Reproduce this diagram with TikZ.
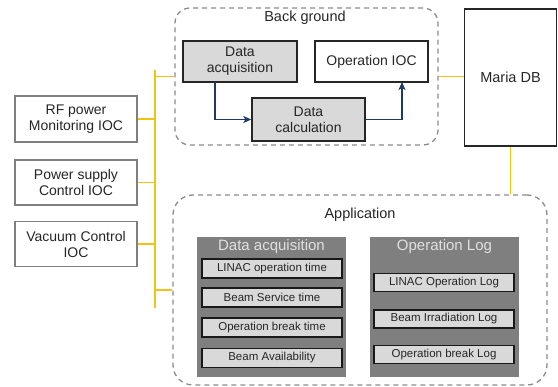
\documentclass[tikz,border=0pt]{standalone}
\usepackage{fontspec}
\setmainfont{Liberation Sans}
\usetikzlibrary{arrows.meta}
\definecolor{yel}{HTML}{F2C314}
\definecolor{dashgray}{HTML}{8C8C8C}
\definecolor{navy}{HTML}{1F3864}
\definecolor{boxgray}{HTML}{D9D9D9}
\definecolor{panelgray}{HTML}{7F7F7F}
\definecolor{txt}{HTML}{262626}
\tikzset{
  yline/.style={draw=yel, line width=1.6pt},
  dashbox/.style={draw=dashgray, line width=1.3pt, dash pattern=on 5pt off 4pt, rectangle},
  graybox/.style={draw=txt, fill=boxgray, line width=1.4pt, align=center, text=txt, font=\fontsize{14}{16}\selectfont, inner sep=0pt},
  whitebox/.style={draw=panelgray, fill=white, line width=1.2pt, align=center, text=txt, font=\fontsize{14}{16}\selectfont, inner sep=0pt},
  panel/.style={fill=panelgray, draw=none, inner sep=0pt},
  itembox/.style={draw=black!90, fill=boxgray, line width=1.5pt, text=txt, font=\fontsize{11.5}{12}\selectfont, inner sep=0pt, minimum width=140pt},
  flow/.style={draw=navy, line width=1.4pt, -{Stealth[length=8pt,width=7pt,inset=2pt]}},
  lbl/.style={text=txt, font=\fontsize{14.5}{16}\selectfont, inner sep=0pt},
  ptitle/.style={text=black!12, font=\fontsize{15}{16}\selectfont, inner sep=0pt}
}
\begin{document}
\begin{tikzpicture}[x=1pt,y=-1pt]
\useasboundingbox (0,0) rectangle (558,387);
% Background group
\node[dashbox, rounded corners=15pt, minimum width=263pt, minimum height=137pt] (bg) at (306.5,76.5) {};
\node[lbl] (bgl) at (305,18) {Back ground};
\node[graybox, minimum width=114pt, minimum height=41pt] (dacq) at (240,61.5) {Data\\acquisition};
\node[whitebox, draw=txt, minimum width=113pt, minimum height=41pt] (opioc) at (371.5,61.5) {Operation IOC};
\node[graybox, minimum width=113pt, minimum height=43pt] (dcalc) at (308.5,119.5) {Data\\calculation};
\coordinate (a1) at (215,82);
\coordinate (a2) at (402,82);
\draw[flow] (a1) |- (dcalc.west);
\draw[flow] (dcalc.east) -| (a2);
% Maria DB
\node[draw=txt, fill=white, line width=1.5pt, minimum width=92pt, minimum height=137pt, lbl] (maria) at (510.5,77.5) {Maria DB};
% Application
\node[dashbox, rounded corners=20pt, minimum width=374pt, minimum height=190pt] (app) at (360,290) {};
\node[lbl] (appl) at (360,215) {Application};
\node[panel, minimum width=149pt, minimum height=140pt] (pda) at (271.5,307) {};
\node[panel, minimum width=149pt, minimum height=140pt] (pol) at (444.5,307) {};
\node[ptitle] (pdat) at (271.5,247) {Data acquisition};
\node[ptitle] (polt) at (444.5,247) {Operation Log};
\node[itembox, minimum height=19pt] (i1) at (272,268.5) {LINAC operation time};
\node[itembox, minimum height=19pt] (i2) at (272,297.5) {Beam Service time};
\node[itembox, minimum height=19pt] (i3) at (272,327.5) {Operation break time};
\node[itembox, minimum height=19pt] (i4) at (272,358) {Beam Availability};
\node[itembox, minimum height=18pt] (o1) at (444,282.5) {LINAC Operation Log};
\node[itembox, minimum height=18pt] (o2) at (444,319) {Beam Irradiation Log};
\node[itembox, minimum height=18pt] (o3) at (444,354.5) {Operation break Log};
% Left IOCs
\node[whitebox, minimum width=122pt, minimum height=46pt] (rf) at (76,119) {RF power\\Monitoring IOC};
\node[whitebox, minimum width=122pt, minimum height=45pt] (ps) at (76,182.5) {Power supply\\Control IOC};
\node[whitebox, minimum width=122pt, minimum height=45pt] (vac) at (76,244) {Vacuum Control\\IOC};
% Yellow bus
\coordinate (bustop) at (155,70);
\coordinate (busbot) at (155,308);
\draw[yline] (bustop) -- (busbot);
\draw[yline] (bg.west) -- (bg.west -| bustop);
\draw[yline] (rf.east) -- (rf.east -| bustop);
\draw[yline] (ps.east) -- (ps.east -| bustop);
\draw[yline] (vac.east) -- (vac.east -| bustop);
\draw[yline] (app.west) -- (app.west -| bustop);
\draw[yline] (bg.east) -- (bg.east -| maria.west);
\draw[yline] (maria.south) -- (maria.south |- app.north);
\end{tikzpicture}
\end{document}
